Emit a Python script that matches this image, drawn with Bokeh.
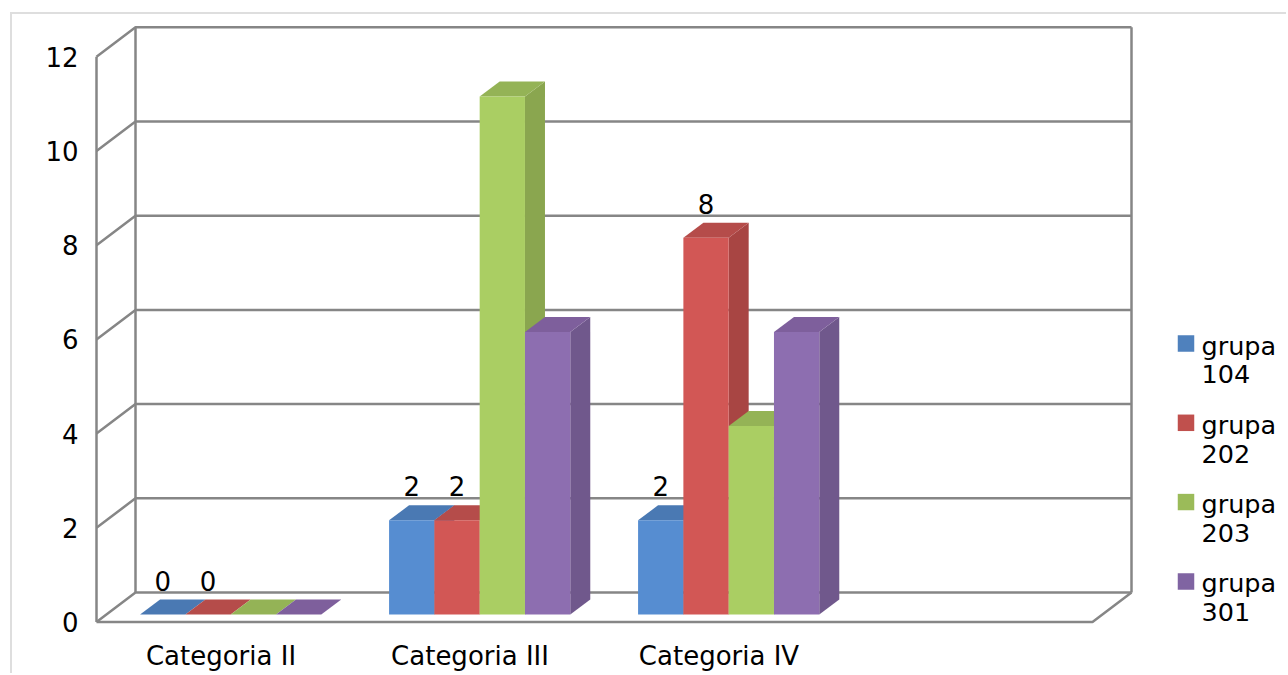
from bokeh.plotting import figure
from bokeh.embed import file_html
from bokeh.resources import INLINE
from bokeh.models import FixedTicker
from bokeh.core.properties import value

# ---- data ----
categories = ["Categoria II", "Categoria III", "Categoria IV", ""]
series_names = ["grupa\n104", "grupa\n202", "grupa\n203", "grupa\n301"]
grupa_104 = [0, 2, 2]
grupa_202 = [0, 2, 8]
grupa_203 = [0, 11, 4]
grupa_301 = [0, 6, 6]
y_ticks = [0, 2, 4, 6, 8, 10, 12]
labelled_series = [True, True, False, False]

front_colors = ["#568DD1", "#D25755", "#AACE63", "#8D6EB0"]
top_colors = ["#4A79B3", "#B54C4A", "#94B356", "#7E5F9C"]
side_colors = ["#41699C", "#A84543", "#8AA64F", "#70588C"]
legend_colors = ["#4F81BD", "#C0504D", "#9BBB59", "#8064A2"]
GRID = "#868686"
FONT = "DejaVu Sans"
FS = "26px"
LEG_FS = "25.5px"

# ---- pixel scale of the two data axes ----
PX_X = 1 / 249.0     # one category = 249 px
PX_Y = 1 / 47.1      # one value unit = 47.1 px

# 3-D projection
wall_dx, wall_dy = 39 * PX_X, 29.5 * PX_Y
bar_dx, bar_dy = 20 * PX_X, 15 * PX_Y
bar_base = 7.5 * PX_Y
bar_start = 0.175
bar_w = 45.3 * PX_X

FIG_W, FIG_H = 1276, 661
INNER_X, INNER_Y = 13, 15                               # page px of figure content origin
F_LEFT, F_TOP, F_RIGHT, F_BOTTOM = 94, 20, 1289, 626    # frame in page px
ORIGIN_X, ORIGIN_Y = 97, 622.5                          # value 0 / category 0 in page px

x_range = ((F_LEFT - ORIGIN_X) * PX_X, (F_RIGHT - ORIGIN_X) * PX_X)
y_range = ((ORIGIN_Y - F_BOTTOM) * PX_Y, (ORIGIN_Y - F_TOP) * PX_Y)

p = figure(width=FIG_W, height=FIG_H, x_range=x_range, y_range=y_range,
           output_backend="svg", toolbar_location=None,
           min_border_left=F_LEFT - INNER_X, min_border_top=F_TOP - INNER_Y,
           min_border_right=0, min_border_bottom=INNER_Y + FIG_H - F_BOTTOM,
           outline_line_color=None, background_fill_color="white",
           border_fill_color="white")
p.margin = (12, 0, 0, 10)
p.styles = {"border-left": "2px solid #DEDEDE", "border-top": "2px solid #DEDEDE"}
p.grid.visible = False

ax = p.yaxis[0]
ax.ticker = FixedTicker(ticks=y_ticks)
ax.axis_line_color = None
ax.major_tick_line_color = None
ax.minor_tick_line_color = None
ax.major_label_text_font = FONT
ax.major_label_text_font_size = FS
ax.major_label_text_color = "black"
ax.major_label_standoff = 9

bx = p.xaxis[0]
cat_ticks = [i + 0.5 for i in range(len(categories))]
bx.ticker = FixedTicker(ticks=cat_ticks)
bx.major_label_overrides = {t: c for t, c in zip(cat_ticks, categories)}
bx.axis_line_color = None
bx.major_tick_line_color = None
bx.minor_tick_line_color = None
bx.major_label_text_font = FONT
bx.major_label_text_font_size = FS
bx.major_label_text_color = "black"
bx.major_label_standoff = 9

# ---- walls ----
n_cat = len(categories)
top_v = y_ticks[-1]
wx, wy = [], []
for v in y_ticks:
    wx.append([0, wall_dx, n_cat + wall_dx])          # gridline: left wall + back wall
    wy.append([v, v + wall_dy, v + wall_dy])
wx.append([0, 0]); wy.append([0, top_v])                                  # front left edge
wx.append([wall_dx, wall_dx]); wy.append([wall_dy, top_v + wall_dy])      # back left edge
wx.append([n_cat + wall_dx, n_cat + wall_dx]); wy.append([wall_dy, top_v + wall_dy])  # back right
wx.append([0, n_cat, n_cat + wall_dx]); wy.append([0, 0, wall_dy])        # floor front edge
p.multi_line(wx, wy, line_color=GRID, line_width=2.5)

# ---- bars ----
series = [grupa_104, grupa_202, grupa_203, grupa_301]
xs, ys, cols = [], [], []
lx, ly, lt = [], [], []
for c in range(3):
    for s, vals in enumerate(series):
        v = vals[c]
        x0 = c + bar_start + s * bar_w
        x1 = x0 + bar_w
        y0, y1 = bar_base, bar_base + v
        if v > 0:
            xs.append([x1, x1 + bar_dx, x1 + bar_dx, x1])
            ys.append([y0, y0 + bar_dy, y1 + bar_dy, y1])
            cols.append(side_colors[s])
        xs.append([x0, x1, x1 + bar_dx, x0 + bar_dx])
        ys.append([y1, y1, y1 + bar_dy, y1 + bar_dy])
        cols.append(top_colors[s])
        if v > 0:
            xs.append([x0, x1, x1, x0])
            ys.append([y0, y0, y1, y1])
            cols.append(front_colors[s])
        if labelled_series[s]:
            lx.append((x0 + x1) / 2)
            ly.append(y1)
            lt.append(str(v))
p.patches(xs, ys, fill_color=cols, line_color=None)
p.text(lx, ly, text=lt, text_font=value(FONT), text_font_size=value(FS), text_color="black",
       text_align="center", text_baseline="middle", y_offset=-34)

# ---- legend ----
leg_x = (1186.5 - ORIGIN_X) * PX_X
leg_text_x = (1202 - ORIGIN_X) * PX_X
leg_ys = [(ORIGIN_Y - (344 + i * 79.3)) * PX_Y for i in range(4)]
p.rect([leg_x] * 4, leg_ys, width=16.5, height=16.5, width_units="screen", height_units="screen",
       fill_color=legend_colors, line_color=None)
text_ys = [(ORIGIN_Y - (331 + i * 79.3)) * PX_Y for i in range(4)]
p.text([leg_text_x] * 4, text_ys, text=series_names, text_font=value(FONT), text_font_size=value(LEG_FS),
       text_color="black", text_align="left", text_baseline="top", text_line_height=0.96)

open("out.html", "w").write(file_html(p, INLINE))
